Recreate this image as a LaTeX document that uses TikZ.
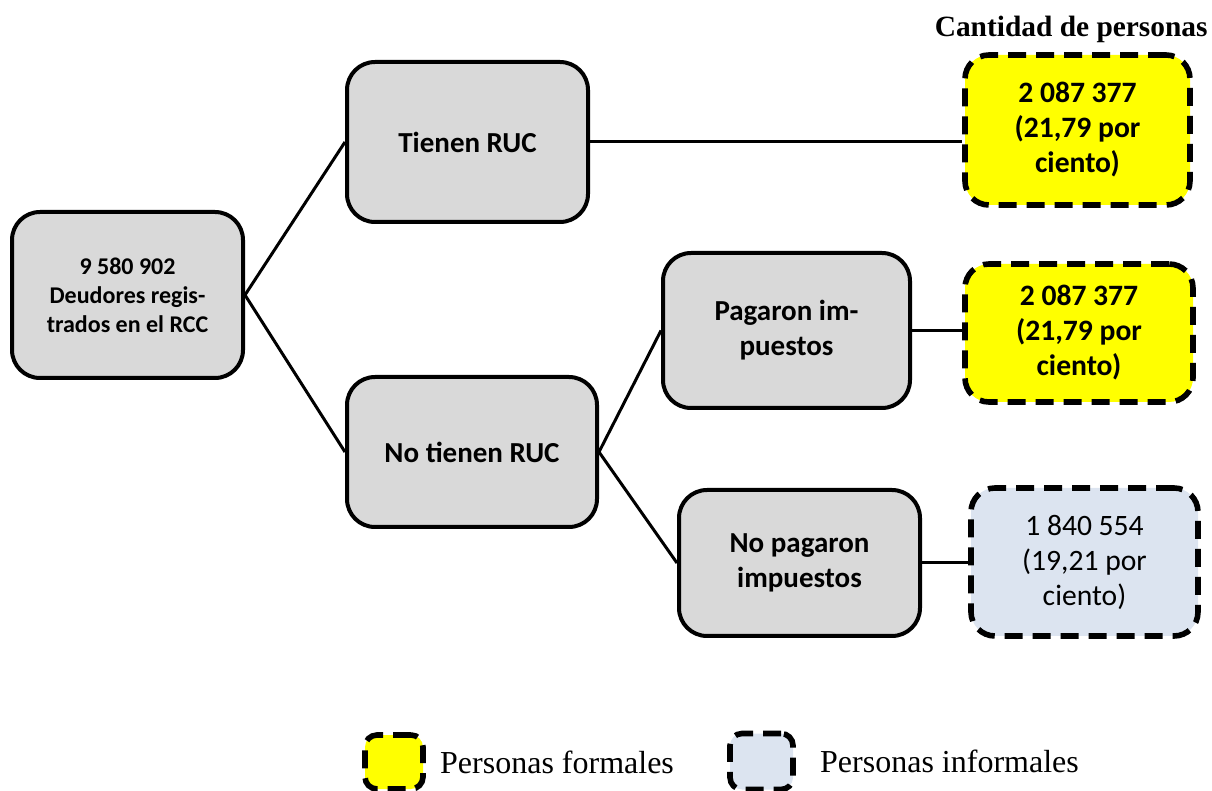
\documentclass[tikz,border=0pt]{standalone}
\usepackage{fontspec}
\setmainfont{Liberation Serif}
\newfontfamily\boxfont{Carlito}
\usetikzlibrary{positioning}
\definecolor{boxgrey}{HTML}{D9D9D9}
\definecolor{formalyellow}{HTML}{FFFF00}
\definecolor{informalblue}{HTML}{DCE4F0}
\tikzset{
  catbox/.style={rectangle, rounded corners=14pt, draw, line width=2pt, fill=boxgrey, align=center, inner sep=0pt, font=\boxfont\bfseries\fontsize{14.5}{17.5}\selectfont},
  rootbox/.style={catbox, font=\boxfont\bfseries\fontsize{12}{14.5}\selectfont},
  countbox/.style={rectangle, rounded corners=12pt, draw, line width=2.8pt, dash pattern=on 9pt off 5pt, align=center, inner sep=0pt, font=\boxfont\fontsize{14.8}{17.5}\selectfont},
  formalbox/.style={countbox, fill=formalyellow, font=\boxfont\bfseries\fontsize{14.8}{17.5}\selectfont},
  informalbox/.style={countbox, fill=informalblue},
  keybox/.style={rectangle, rounded corners=6pt, draw, line width=2.8pt, dash pattern=on 9pt off 5pt, minimum width=29pt, minimum height=27pt, inner sep=0pt},
  keytext/.style={font=\fontsize{16}{19}\selectfont, inner sep=0pt},
  link/.style={line width=1.5pt}
}
\begin{document}
\begin{tikzpicture}[x=0.5pt, y=-0.5pt]
\useasboundingbox (0,0) rectangle (1212,791);
% tree
\node[rootbox, minimum width=115.5pt, minimum height=83pt] (root) at (127.5,295) {9 580 902\\Deudores regis-\\trados en el RCC};
\node[catbox, minimum width=120.5pt, minimum height=80pt] (ruc) at (467.5,142) {Tienen RUC};
\node[catbox, minimum width=125pt, minimum height=75pt] (noruc) at (472,452) {No tienen RUC};
\node[catbox, minimum width=123.5pt, minimum height=77.5pt] (paid) at (786.5,330.5) {Pagaron im-\\puestos};
\node[catbox, minimum width=120.5pt, minimum height=73pt] (notpaid) at (799.5,563) {No pagaron\\impuestos};
% counts
\node[formalbox, minimum width=112.5pt, minimum height=75pt] (rucnum) at (1077.5,130) {2 087 377\\(21,79 por\\ciento)};
\node[formalbox, minimum width=114pt, minimum height=69pt] (paidnum) at (1079,333) {2 087 377\\(21,79 por\\ciento)};
\node[informalbox, minimum width=113.5pt, minimum height=74pt] (notpaidnum) at (1084.5,562) {1 840 554\\(19,21 por\\ciento)};
\node[anchor=east, inner sep=0pt, font=\bfseries\fontsize{14.7}{17}\selectfont] (title) at (1208,29) {Cantidad de personas};

\draw[link] (root.east) -- (ruc.west);
\draw[link] (root.east) -- (noruc.west);
\draw[link] (noruc.east) -- (paid.west);
\draw[link] (noruc.east) -- (notpaid.west);
\draw[link] (ruc.east) -- (ruc.east -| rucnum.west);
\draw[link] (paid.east) -- (paid.east -| paidnum.west);
\draw[link] (notpaid.east) -- (notpaid.east -| notpaidnum.west);

% legend
\node[keybox, fill=formalyellow] (keyformal) at (394,762) {};
\node[keytext, right=7pt of keyformal] (txtformal) {Personas formales};
\node[keybox, fill=informalblue, minimum width=31.5pt, minimum height=28pt] (keyinformal) at (761.5,761.5) {};
\node[keytext, right=12pt of keyinformal] (txtinformal) {Personas informales};
\end{tikzpicture}
\end{document}
